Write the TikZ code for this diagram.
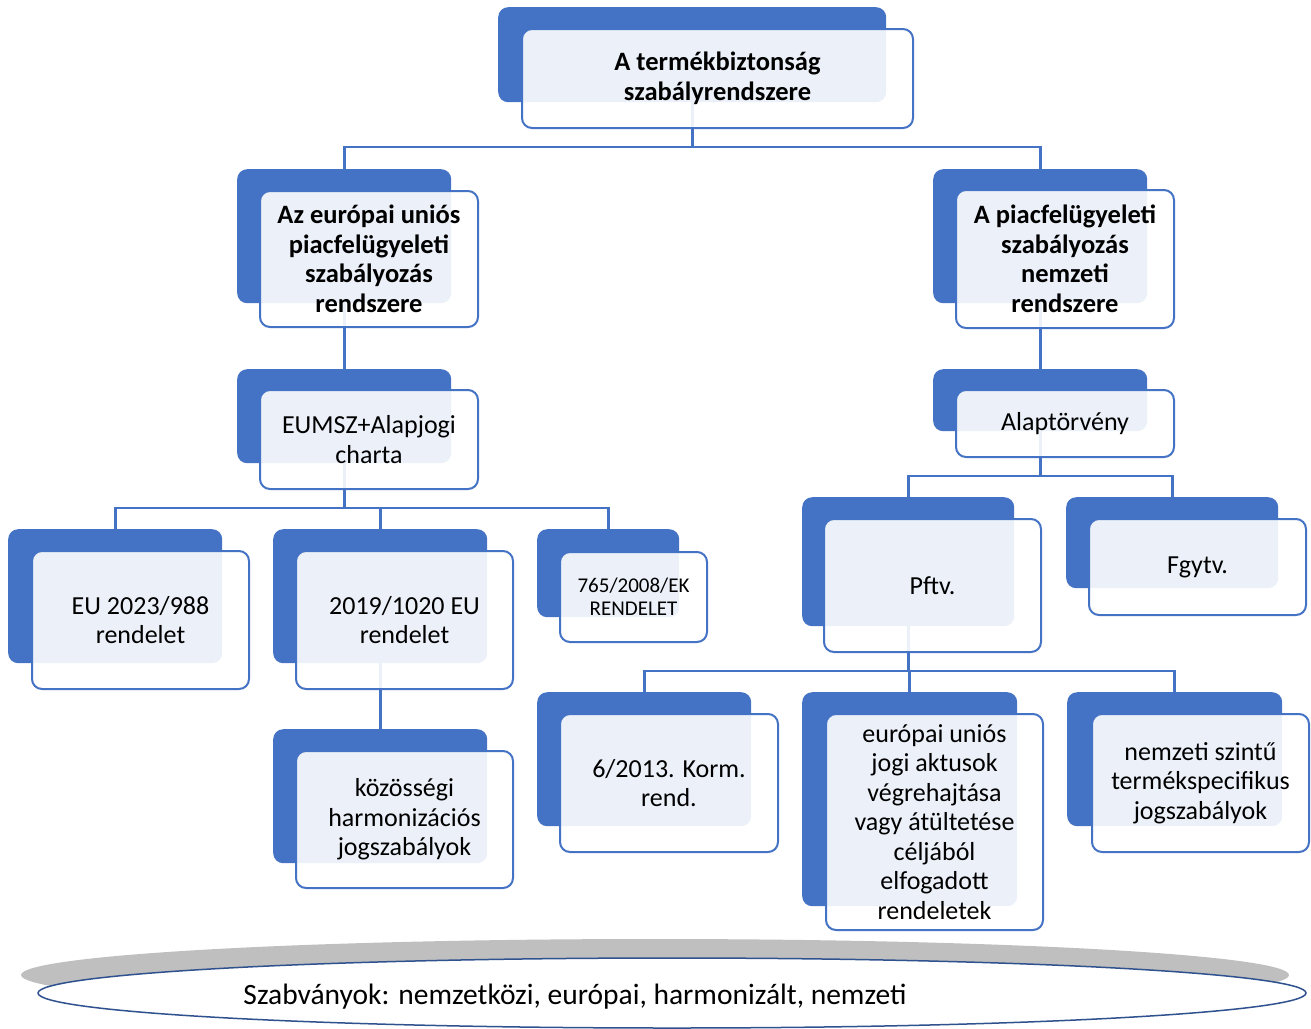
\documentclass[tikz,border=0pt]{standalone}
\usepackage{fontspec}
\setmainfont{Carlito}
\usetikzlibrary{calc}
\definecolor{acc}{HTML}{4472C4}
\definecolor{dk}{HTML}{2F528F}
\definecolor{shad}{HTML}{BFBFBF}
\begin{document}
\begin{tikzpicture}[x=1pt,y=-1pt,
  backbox/.style={fill=acc, draw=none, rounded corners=10pt, inner sep=0pt, anchor=north west},
  frontbox/.style={fill=white, fill opacity=0.9, text opacity=1, draw=acc, line width=2pt, rounded corners=10pt, inner sep=2pt, align=center, anchor=north west},
  conn/.style={draw=acc, line width=2.8pt},
  bigbold/.style={font=\fontsize{26.5}{29.5}\selectfont\bfseries},
  reg/.style={font=\fontsize{26}{29.5}\selectfont},
  small/.style={font=\fontsize{21}{23}\selectfont}]
\useasboundingbox (0,0) rectangle (1311,1028);
\clip (0,0) rectangle (1311,1028);
% standards ellipse
\fill[shad] (655,975) ellipse [x radius=634pt, y radius=36pt];
\draw[dk, line width=1.5pt, fill=white] (672,993) ellipse [x radius=634pt, y radius=35pt];
\node[font=\fontsize{29.5}{32}\selectfont] (stdtext) at (575,997) {Szabványok: nemzetközi, európai, harmonizált, nemzeti};
% back boxes
\node[backbox, minimum width=388pt, minimum height=95pt] (topb) at (498,7) {};
\node[backbox, minimum width=214pt, minimum height=134pt] (eub) at (237,169) {};
\node[backbox, minimum width=214pt, minimum height=134pt] (hub) at (933,169) {};
\node[backbox, minimum width=214pt, minimum height=94pt] (eumszb) at (237,369) {};
\node[backbox, minimum width=214pt, minimum height=62pt] (alapb) at (933,369) {};
\node[backbox, minimum width=214pt, minimum height=134pt] (r988b) at (8,529) {};
\node[backbox, minimum width=214pt, minimum height=134pt] (r1020b) at (273,529) {};
\node[backbox, minimum width=142pt, minimum height=88pt] (r765b) at (537,529) {};
\node[backbox, minimum width=214pt, minimum height=134pt] (kozb) at (273,729) {};
\node[backbox, minimum width=212pt, minimum height=129pt] (pftvb) at (802,497) {};
\node[backbox, minimum width=212pt, minimum height=91pt] (fgytvb) at (1066,497) {};
\node[backbox, minimum width=214pt, minimum height=134pt] (kormb) at (537,692) {};
\node[backbox, minimum width=215pt, minimum height=214pt] (eujb) at (802,692) {};
\node[backbox, minimum width=215pt, minimum height=134pt] (nemzb) at (1067,692) {};
% connectors
\draw[conn] (topb.south) -- (topb.south |- 0,147) -| (eub.north);
\draw[conn] (topb.south |- 0,147) -| (hub.north);
\draw[conn] (eub.south) -- (eumszb.north);
\draw[conn] (hub.south) -- (alapb.north);
\draw[conn] (eumszb.south) -- (eumszb.south |- 0,508) -| (r988b.north);
\draw[conn] (eumszb.south |- 0,508) -| (r1020b.north);
\draw[conn] (eumszb.south |- 0,508) -| (r765b.north);
\draw[conn] (r1020b.south) -- (kozb.north);
\draw[conn] (alapb.south) -- (alapb.south |- 0,476) -| (pftvb.north);
\draw[conn] (alapb.south |- 0,476) -| (fgytvb.north);
\draw[conn] (pftvb.south) -- (pftvb.south |- 0,671) -| (kormb.north);
\draw[conn] (pftvb.south |- 0,671) -| (eujb.north);
\draw[conn] (pftvb.south |- 0,671) -| (nemzb.north);
% front boxes
\node[frontbox, bigbold, minimum width=391pt, minimum height=99pt] (topf) at ($(topb.north west)+(23,21)$) {A termékbiztonság\\szabályrendszere};
\node[frontbox, bigbold, minimum width=218pt, minimum height=136pt] (euf) at ($(eub.north west)+(22,21)$) {Az európai uniós\\piacfelügyeleti\\szabályozás\\rendszere};
\node[frontbox, bigbold, minimum width=218pt, minimum height=138pt] (huf) at ($(hub.north west)+(22,20)$) {A piacfelügyeleti\\szabályozás\\nemzeti\\rendszere};
\node[frontbox, reg, minimum width=218pt, minimum height=99pt] (eumszf) at ($(eumszb.north west)+(22,20)$) {EUMSZ+Alapjogi\\charta};
\node[frontbox, reg, minimum width=218pt, minimum height=67pt] (alapf) at ($(alapb.north west)+(22,20)$) {Alaptörvény};
\node[frontbox, reg, minimum width=217pt, minimum height=138pt] (r988f) at ($(r988b.north west)+(23,21)$) {EU 2023/988\\rendelet};
\node[frontbox, reg, minimum width=217pt, minimum height=138pt] (r1020f) at ($(r1020b.north west)+(22,21)$) {2019/1020 EU\\rendelet};
\node[frontbox, small, minimum width=147pt, minimum height=90pt] (r765f) at ($(r765b.north west)+(22,22)$) {765/2008/EK\\RENDELET};
\node[frontbox, reg, minimum width=217pt, minimum height=137pt] (kozf) at ($(kozb.north west)+(22,21)$) {közösségi\\harmonizációs\\jogszabályok};
\node[frontbox, reg, minimum width=217pt, minimum height=133pt] (pftvf) at ($(pftvb.north west)+(21,21)$) {Pftv.};
\node[frontbox, reg, minimum width=217pt, minimum height=96pt] (fgytvf) at ($(fgytvb.north west)+(22,21)$) {Fgytv.};
\node[frontbox, reg, minimum width=218pt, minimum height=138pt] (kormf) at ($(kormb.north west)+(22,21)$) {6/2013. Korm.\\rend.};
\node[frontbox, reg, minimum width=217pt, minimum height=216pt] (eujf) at ($(eujb.north west)+(23,21)$) {európai uniós\\jogi aktusok\\végrehajtása\\vagy átültetése\\céljából\\elfogadott\\rendeletek};
\node[frontbox, reg, minimum width=217pt, minimum height=138pt] (nemzf) at ($(nemzb.north west)+(24,21)$) {nemzeti szintű\\termékspecifikus\\jogszabályok};
\end{tikzpicture}
\end{document}
